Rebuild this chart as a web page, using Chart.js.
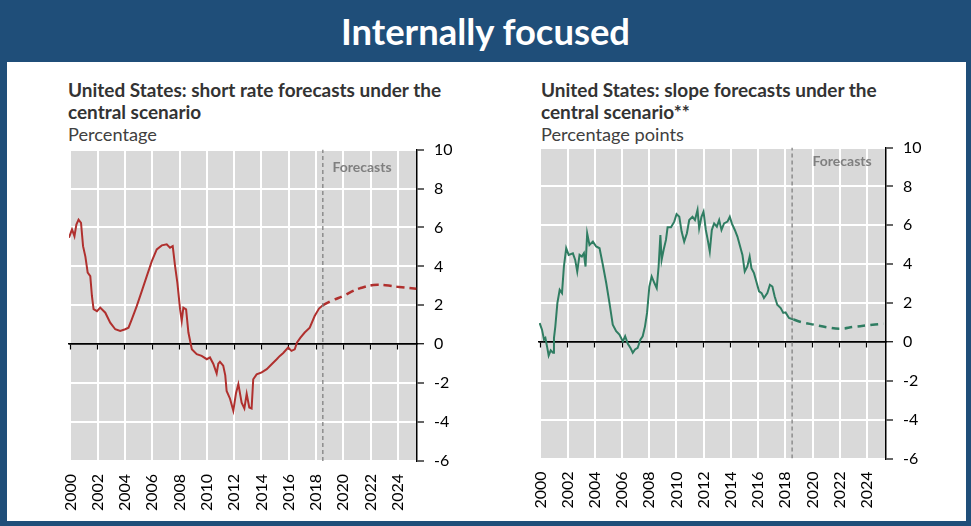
<!DOCTYPE html>
<html>
<head>
<meta charset="utf-8">
<script src="https://cdn.jsdelivr.net/npm/chart.js@4.4.0/dist/chart.umd.min.js"></script>
<style>
html,body{margin:0;padding:0;width:971px;height:526px;overflow:hidden;background:#1f4e79;}
#inner{position:absolute;left:7px;top:62px;width:959px;height:459px;background:#fff;}
#header{position:absolute;left:0;top:0;width:971px;height:62px;color:#fff;font-family:Lato;font-weight:bold;text-align:center;line-height:62px;white-space:nowrap;}
.ttl{position:absolute;font-family:Lato;white-space:nowrap;line-height:22px;}
.ttl .b{font-weight:bold;color:#333;}
.ttl .s{color:#404040;}
canvas{position:absolute;}
</style>
</head>
<body>
<div id="inner"></div>
<div id="header">Internally focused</div>
<div class="ttl" id="t1" style="left:68px;top:79px;">
  <div class="b" id="t1a">United States: short rate forecasts under the</div>
  <div class="b">central scenario</div>
  <div class="s" id="t1s">Percentage</div>
</div>
<div class="ttl" id="t2" style="left:541px;top:79px;">
  <div class="b" id="t2a">United States: slope forecasts under the</div>
  <div class="b">central scenario**</div>
  <div class="s" id="t2s">Percentage points</div>
</div>
<canvas id="c1" width="430" height="385" style="left:55px;top:130px;"></canvas>
<canvas id="c2" width="430" height="385" style="left:525px;top:127.5px;"></canvas>
<script>
// ---------- data ----------
const xTickYears = [2000,2002,2004,2006,2008,2010,2012,2014,2016,2018,2020,2022,2024];
const yTickValues = [-6,-4,-2,0,2,4,6,8,10];
const forecastStart = 2018.5;
const forecastLabel = "Forecasts";

// Short rate (percentage), historical
const shortHistYears = [1999.9,2000.12,2000.3,2000.44,2000.6,2000.78,2000.93,2001.1,2001.27,2001.46,2001.58,2001.7,2001.95,2002.19,2002.56,2002.92,2003.29,2003.65,2004.02,2004.26,2004.5,2004.87,2005.24,2005.6,2005.97,2006.33,2006.7,2007.06,2007.3,2007.5,2007.67,2007.84,2008.04,2008.16,2008.28,2008.48,2008.65,2008.9,2009.26,2009.62,2010.0,2010.23,2010.47,2010.72,2010.84,2010.96,2011.2,2011.35,2011.45,2011.7,2011.94,2012.14,2012.31,2012.55,2012.75,2012.92,2013.11,2013.28,2013.4,2013.65,2014.02,2014.39,2014.75,2015.12,2015.35,2015.6,2015.96,2016.2,2016.44,2016.61,2016.86,2017.17,2017.54,2017.9,2018.22,2018.5];
const shortHistValues = [5.47,5.9,5.55,6.15,6.4,6.24,5.04,4.5,3.68,3.5,2.48,1.8,1.7,1.88,1.62,1.11,0.77,0.68,0.77,0.85,1.28,1.97,2.74,3.5,4.27,4.87,5.08,5.13,4.96,5.04,4.02,3.16,1.79,1.2,1.88,1.79,0.6,-0.26,-0.51,-0.6,-0.77,-0.68,-1.0,-1.5,-1.0,-0.9,-1.1,-1.6,-2.4,-2.8,-3.42,-2.5,-2.05,-3.0,-3.3,-2.55,-3.25,-3.3,-1.8,-1.55,-1.45,-1.28,-1.03,-0.77,-0.6,-0.45,-0.17,-0.34,-0.26,0.09,0.34,0.6,0.85,1.45,1.83,2.0];
// Short rate, forecast
const shortFcYears = [2018.5,2019.2,2020.0,2020.6,2021.2,2022.2,2023.1,2024.1,2025.35];
const shortFcValues = [2.0,2.25,2.48,2.7,2.87,3.04,3.03,2.94,2.85];

// Slope (percentage points), historical
const slopeHistYears = [1999.95,2000.12,2000.27,2000.37,2000.51,2000.61,2000.76,2000.93,2001.0,2001.1,2001.25,2001.42,2001.59,2001.73,2001.9,2002.08,2002.39,2002.56,2002.71,2002.88,2003.05,2003.2,2003.32,2003.44,2003.61,2003.86,2004.1,2004.35,2004.59,2004.84,2005.08,2005.32,2005.57,2005.81,2006.06,2006.23,2006.42,2006.62,2006.79,2006.96,2007.15,2007.35,2007.52,2007.69,2007.84,2008.01,2008.18,2008.38,2008.55,2008.69,2008.82,2008.91,2009.06,2009.23,2009.35,2009.6,2009.84,2010.01,2010.21,2010.38,2010.57,2010.77,2010.94,2011.18,2011.36,2011.55,2011.67,2011.84,2011.99,2012.16,2012.28,2012.45,2012.6,2012.77,2012.97,2013.14,2013.31,2013.5,2013.75,2013.92,2014.07,2014.29,2014.48,2014.68,2014.85,2015.02,2015.21,2015.38,2015.51,2015.7,2015.9,2016.07,2016.26,2016.43,2016.68,2016.87,2017.05,2017.22,2017.41,2017.66,2017.85,2018.02,2018.27,2018.6];
const slopeHistValues = [0.97,0.63,0.12,0.2,-0.31,-0.7,-0.43,-0.56,0.2,0.8,2.0,2.68,2.51,3.88,4.82,4.48,4.56,4.22,3.62,4.48,4.39,4.56,3.88,5.59,4.99,5.16,4.91,4.82,3.97,3.03,2.0,0.89,0.55,0.38,0.03,0.29,-0.09,-0.31,-0.56,-0.39,-0.31,0.12,0.29,0.8,1.49,2.85,3.37,3.03,2.77,3.88,5.5,4.22,4.74,5.25,5.9,5.9,6.19,6.58,6.44,5.68,5.16,5.59,6.27,6.44,6.27,6.79,5.85,6.44,6.7,5.76,5.33,4.65,5.76,6.1,5.93,6.27,5.76,6.1,6.19,6.44,6.1,5.76,5.42,4.91,4.48,3.62,3.88,4.39,3.79,3.54,3.03,2.6,2.51,2.26,2.51,2.94,2.85,2.34,1.91,1.74,1.49,1.52,1.23,1.15];
// Slope, forecast
const slopeFcYears = [2018.6,2019.3,2020.1,2021.1,2022.05,2023.0,2024.0,2025.2];
const slopeFcValues = [1.15,1.0,0.89,0.75,0.68,0.77,0.85,0.94];

// ---------- text fitting ----------
function fitFont(el, family, weight, text, target){
  const c = document.createElement('canvas').getContext('2d');
  c.font = weight + ' 100px ' + family;
  return 100 * target / c.measureText(text).width;
}
const hdr = document.getElementById('header');
hdr.style.fontSize = fitFont(hdr,'Lato','bold','Internally focused',290) + 'px';
const tSize = (fitFont(null,'Lato','bold','United States: short rate forecasts under the',373) +
               fitFont(null,'Lato','bold','United States: slope forecasts under the',337)) / 2;
const sSize = (fitFont(null,'Lato','normal','Percentage',89) +
               fitFont(null,'Lato','normal','Percentage points',143)) / 2;
document.querySelectorAll('.ttl .b').forEach(e => e.style.fontSize = tSize + 'px');
document.querySelectorAll('.ttl .s').forEach(e => e.style.fontSize = sSize + 'px');

// ---------- plugins ----------
const bgPlugin = {
  id: 'plotBg',
  beforeDraw(chart){
    const {ctx, chartArea: a} = chart;
    ctx.save();
    ctx.fillStyle = '#d9d9d9';
    ctx.fillRect(a.left, a.top, a.right - a.left, a.bottom - a.top);
    ctx.restore();
  }
};
const fcLabelPlugin = {
  id: 'fcLabel',
  afterDatasetsDraw(chart, args, opts){
    const {ctx} = chart;
    const xs = chart.scales.x, ys = chart.scales.y;
    ctx.save();
    ctx.font = 'bold 14px Lato';
    ctx.fillStyle = '#7f7f7f';
    ctx.textBaseline = 'middle';
    ctx.textAlign = 'left';
    ctx.fillText(opts.text, xs.getPixelForValue(opts.x), ys.getPixelForValue(opts.y));
    ctx.restore();
  }
};

function makeChart(id, p){
  const xMin = 1999.9, xMax = 2025.4, yMin = -6, yMax = 10;
  const setTicks = s => { s.ticks = xTickYears.map(v => ({value: v})); };
  new Chart(document.getElementById(id), {
    type: 'line',
    data: {
      datasets: [
        { data: [{x: forecastStart, y: yMin}, {x: forecastStart, y: yMax}],
          borderColor: '#808080', borderWidth: 1.3, borderDash: [4,3], pointRadius: 0, tension: 0 },
        { data: p.hx.map((x,i) => ({x, y: p.hy[i]})),
          borderColor: p.color, borderWidth: 2, pointRadius: 0, tension: 0 },
        { data: p.fx.map((x,i) => ({x, y: p.fy[i]})),
          borderColor: p.color, borderWidth: 2.5, borderDash: [8,5], pointRadius: 0, tension: 0.4 }
      ]
    },
    options: {
      responsive: false, animation: false, devicePixelRatio: 1,
      layout: { padding: { left: p.padL, top: 0, right: 0, bottom: 0 } },
      plugins: { legend: {display: false}, tooltip: {enabled: false},
                 fcLabel: { text: forecastLabel, x: p.lblX, y: p.lblY } },
      scales: {
        x: { type: 'linear', position: 'bottom', min: xMin, max: xMax,
             afterBuildTicks: setTicks,
             afterFit: s => { s.height = p.botH; },
             grid: { color: '#ffffff', lineWidth: 2, drawTicks: false },
             border: { display: false },
             ticks: { minRotation: 90, maxRotation: 90, autoSkip: false, padding: 13, color: '#000',
                      font: { family: 'Lato', size: 16 }, callback: v => String(v) } },
        x0: { type: 'linear', axis: 'x', position: { y: 0 }, min: xMin, max: xMax,
              afterBuildTicks: setTicks,
              grid: { drawOnChartArea: false, drawTicks: true, tickLength: 5, tickColor: '#000', tickWidth: 1.2 },
              border: { color: '#000', width: 1.5 },
              ticks: { display: false } },
        y: { type: 'linear', position: 'right', min: yMin, max: yMax,
             afterBuildTicks: s => { s.ticks = yTickValues.map(v => ({value: v})); },
             afterFit: s => { s.width = p.rightW; },
             grid: { color: c => (c.tick && c.tick.value === 0) ? '#000' : '#ffffff',
                     lineWidth: c => (c.tick && c.tick.value === 0) ? 1.5 : 2,
                     tickColor: '#000', tickLength: 7, tickWidth: 1.2 },
             border: { color: '#000', width: 1.5 },
             ticks: { padding: 10, color: '#000', font: { family: 'Lato', size: 16 }, callback: v => String(v) } }
      }
    },
    plugins: [bgPlugin, fcLabelPlugin]
  });
}

makeChart('c1', { hx: shortHistYears, hy: shortHistValues, fx: shortFcYears, fy: shortFcValues,
                  color: '#b0302e', padL: 14, rightW: 68, botH: 54, lblX: 2019.2, lblY: 9.1 });
makeChart('c2', { hx: slopeHistYears, hy: slopeHistValues, fx: slopeFcYears, fy: slopeFcValues,
                  color: '#2f7d62', padL: 14, rightW: 69, botH: 54.5, lblX: 2020.0, lblY: 9.27 });
</script>
</body>
</html>
